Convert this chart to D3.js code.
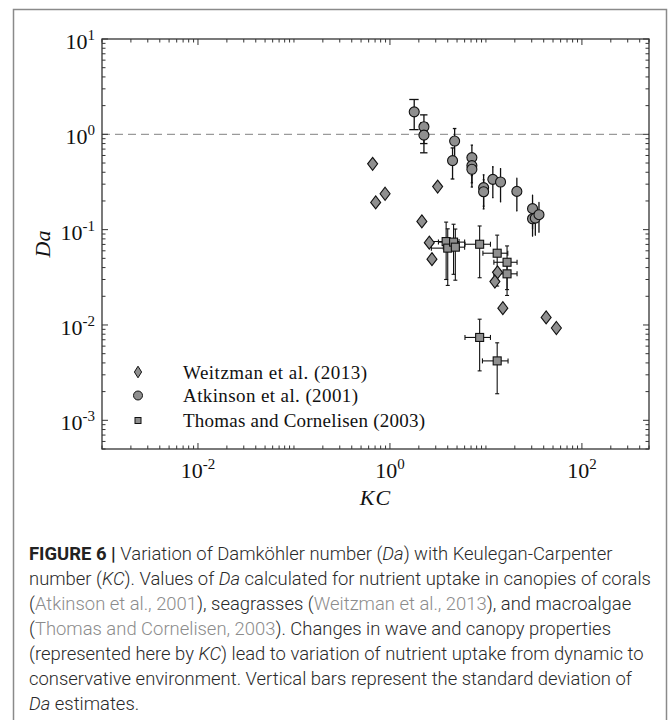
<!DOCTYPE html>
<html><head><meta charset="utf-8">
<script src="https://cdn.jsdelivr.net/npm/d3@7"></script>
<style>body{margin:0;background:#fff} svg{display:block}</style>
</head><body><svg id="c" width="669" height="720"></svg>
<script>
// ---- data ----
const weitzmanKC = [0.66, 0.71, 0.89, 2.15, 3.14, 2.57, 2.74, 13.2, 12.4, 15.0, 42.4, 54.2];
const weitzmanDa = [0.49, 0.193, 0.238, 0.122, 0.283, 0.073, 0.049, 0.0357, 0.0285, 0.015, 0.012, 0.0093];

const atkinsonKC = [1.79, 2.26, 2.26, 4.72, 4.49, 7.14, 7.14, 7.14, 9.46, 9.46, 11.8, 14.2, 21.0, 30.6, 30.6, 32.7, 35.7];
const atkinsonDa = [1.72, 1.20, 0.98, 0.85, 0.53, 0.57, 0.47, 0.43, 0.276, 0.25, 0.337, 0.316, 0.252, 0.166, 0.130, 0.132, 0.1435];
const atkinsonSD = [0.60, 0.40, 0.34, 0.30, 0.19, 0.20, 0.16, 0.15, 0.10, 0.085, 0.12, 0.12, 0.095, 0.065, 0.045, 0.045, 0.05];

const thomasKC   = [3.85, 4.0, 4.6, 4.8, 8.6, 13.1, 16.6, 16.6, 8.6, 13.1];
const thomasDa   = [0.075, 0.064, 0.074, 0.0655, 0.0703, 0.0566, 0.0455, 0.0344, 0.0074, 0.0042];
const thomasKCsd = [1.4, 1.3, 1.4, 1.2, 2.55, 3.8, 4.5, 4.5, 2.55, 3.9];
const thomasDaSD = [0.045, 0.038, 0.04, 0.036, 0.039, 0.031, 0.022, 0.014, 0.0041, 0.0023];

const xMajorExps = [-2, 0, 2];
const yMajorExps = [1, 0, -1, -2, -3];
const xDomain = [1e-3, 500];
const yDomain = [5e-4, 10];
const refLine = 1;
const legendLabels = ["Weitzman et al. (2013)", "Atkinson et al. (2001)", "Thomas and Cornelisen (2003)"];
const xLabel = "KC", yLabel = "Da";
const captionLines = [
  [["FIGURE 6 | ","b"],["Variation of Damköhler number (",""],["Da","i"],[") with Keulegan-Carpenter",""]],
  [["number (",""],["KC","i"],["). Values of ",""],["Da","i"],[" calculated for nutrient uptake in canopies of corals",""]],
  [["(",""],["Atkinson et al., 2001","g"],["), seagrasses (",""],["Weitzman et al., 2013","g"],["), and macroalgae",""]],
  [["(",""],["Thomas and Cornelisen, 2003","g"],["). Changes in wave and canopy properties",""]],
  [["(represented here by ",""],["KC","i"],[") lead to variation of nutrient uptake from dynamic to",""]],
  [["conservative environment. Vertical bars represent the standard deviation of",""]],
  [["Da","i"],[" estimates.",""]]
];

// ---- layout ----
const svg = d3.select("#c");
const L = 102, R = 649, T = 39, B = 449;
const x = d3.scaleLog().domain(xDomain).range([L, R]);
const y = d3.scaleLog().domain(yDomain).range([B, T]);
const serif = "'Liberation Serif','DejaVu Serif',serif";
const fill = "#8f8f8f";
const axisCol = "#333";

// outer frame
svg.append("path").attr("d", "M13.5,720 V9.5 H666.5 V720")
  .attr("fill","none").attr("stroke","#8a8a8a").attr("stroke-width",1.5);

// reference line
svg.append("line").attr("x1",L).attr("x2",R).attr("y1",y(refLine)).attr("y2",y(refLine))
  .attr("stroke","#9a9a9a").attr("stroke-width",1.2).attr("stroke-dasharray","8,5");

// ticks
function logTicks(lo, hi){ const out=[]; for(let e=Math.floor(Math.log10(lo)); e<=Math.ceil(Math.log10(hi)); e++){ for(let m=1;m<10;m++){const v=m*Math.pow(10,e); if(v>=lo*0.999 && v<=hi*1.001) out.push(v);} } return out; }
const gT = svg.append("g").attr("stroke",axisCol).attr("stroke-width",1);
const xMajorVals = xMajorExps.map(e=>Math.pow(10,e));
logTicks(xDomain[0], xDomain[1]).forEach(v=>{
  const major = xMajorVals.some(m=>Math.abs(m-v)/m<1e-6);
  const len = major?6:3.5, px=x(v);
  gT.append("line").attr("x1",px).attr("x2",px).attr("y1",B).attr("y2",B-len);
  gT.append("line").attr("x1",px).attr("x2",px).attr("y1",T).attr("y2",T+len);
});
logTicks(yDomain[0], yDomain[1]).forEach(v=>{
  const major = Math.abs(Math.log10(v)-Math.round(Math.log10(v)))<1e-6;
  const len = major?6:3.5, py=y(v);
  gT.append("line").attr("y1",py).attr("y2",py).attr("x1",L).attr("x2",L+len);
  gT.append("line").attr("y1",py).attr("y2",py).attr("x1",R).attr("x2",R-len);
});
svg.append("rect").attr("x",L).attr("y",T).attr("width",R-L).attr("height",B-T)
  .attr("fill","none").attr("stroke",axisCol).attr("stroke-width",1.3);

// tick labels
xMajorExps.forEach(e=>{
  const t = svg.append("text").attr("x",x(Math.pow(10,e))).attr("y",478).attr("text-anchor","middle")
    .attr("font-family",serif).attr("font-size",22).attr("fill","#111");
  t.append("tspan").text("10");
  t.append("tspan").attr("dy",-9).attr("font-size",15).text(String(e));
});
yMajorExps.forEach(e=>{
  const t = svg.append("text").attr("x",95).attr("y",y(Math.pow(10,e))+10).attr("text-anchor","end")
    .attr("font-family",serif).attr("font-size",22).attr("fill","#111");
  t.append("tspan").text("10");
  t.append("tspan").attr("dy",-9).attr("font-size",15).text(String(e));
});
svg.append("text").attr("x",(L+R)/2).attr("y",505).attr("text-anchor","middle")
  .attr("font-family",serif).attr("font-style","italic").attr("font-size",22).attr("letter-spacing",1).attr("fill","#111").text(xLabel);
svg.append("text").attr("transform",`translate(50,${(T+B)/2}) rotate(-90)`).attr("text-anchor","middle")
  .attr("font-family",serif).attr("font-style","italic").attr("font-size",22).attr("fill","#111").text(yLabel);

// markers
const diamond = (w,h)=>`M0,${-h}L${w},0L0,${h}L${-w},0Z`;
const eb = svg.append("g").attr("stroke","#111").attr("stroke-width",1.3).attr("fill","none");
const tee = 0.2;
atkinsonKC.forEach((k,i)=>{
  const d=atkinsonDa[i], s=atkinsonSD[i], px=x(k);
  eb.append("line").attr("x1",px).attr("x2",px).attr("y1",y(d+s)).attr("y2",y(d-s));
  [d+s,d-s].forEach(v=>eb.append("line").attr("x1",x(k-tee)).attr("x2",x(k+tee)).attr("y1",y(v)).attr("y2",y(v)));
});
svg.append("g").selectAll("circle").data(atkinsonKC).join("circle")
  .attr("cx",d=>x(d)).attr("cy",(d,i)=>y(atkinsonDa[i])).attr("r",5)
  .attr("fill",fill).attr("stroke","#111").attr("stroke-width",1.1);

const eb2 = svg.append("g").attr("stroke","#111").attr("stroke-width",1.1).attr("fill","none");
thomasKC.forEach((k,i)=>{
  const d=thomasDa[i], sy=thomasDaSD[i], sx=thomasKCsd[i], px=x(k), py=y(d);
  eb2.append("line").attr("x1",px).attr("x2",px).attr("y1",y(d+sy)).attr("y2",y(d-sy));
  [d+sy,d-sy].forEach(v=>eb2.append("line").attr("x1",px-2).attr("x2",px+2).attr("y1",y(v)).attr("y2",y(v)));
  eb2.append("line").attr("x1",x(k-sx)).attr("x2",x(k+sx)).attr("y1",py).attr("y2",py);
  [k-sx,k+sx].forEach(v=>eb2.append("line").attr("x1",x(v)).attr("x2",x(v)).attr("y1",py-2.5).attr("y2",py+2.5));
});
svg.append("g").selectAll("rect").data(thomasKC).join("rect")
  .attr("x",d=>x(d)-4).attr("y",(d,i)=>y(thomasDa[i])-4).attr("width",8).attr("height",8)
  .attr("fill",fill).attr("stroke","#111").attr("stroke-width",1.1);

svg.append("g").selectAll("path").data(weitzmanKC).join("path")
  .attr("d",diamond(5,6.5)).attr("transform",(d,i)=>`translate(${x(d)},${y(weitzmanDa[i])})`)
  .attr("fill",fill).attr("stroke","#111").attr("stroke-width",1.1);

// legend
const lg = svg.append("g");
const lx = 138, ly = [372, 395.5, 420.5];
const legendWidths = [184, 175, 242];
lg.append("path").attr("d",diamond(3.6,5.8)).attr("transform",`translate(${lx},${ly[0]})`).attr("fill",fill).attr("stroke","#111").attr("stroke-width",1);
lg.append("circle").attr("cx",lx).attr("cy",ly[1]).attr("r",4.5).attr("fill",fill).attr("stroke","#111").attr("stroke-width",1);
lg.append("rect").attr("x",lx-3).attr("y",ly[2]-3).attr("width",6).attr("height",6).attr("fill",fill).attr("stroke","#111").attr("stroke-width",1);
legendLabels.forEach((t,i)=>{
  lg.append("text").attr("x",183).attr("y",ly[i]+6.5).attr("font-family",serif).attr("font-size",19)
    .attr("textLength",legendWidths[i]).attr("lengthAdjust","spacing").attr("fill","#111").text(t);
});

// caption
const capFont = "Roboto,'Liberation Sans',Arial,sans-serif";
const cap = svg.append("g").attr("font-family",capFont).attr("font-weight",300).attr("fill","#2a2a2a");
const lines = captionLines.map((segs,i)=>{
  const t = cap.append("text").attr("x",29).attr("y",560+25*i).attr("font-size",18);
  segs.forEach(([s,st])=>{
    const ts = t.append("tspan").text(s);
    if(st==="b") ts.attr("font-weight",700).attr("fill","#222");
    if(st==="i") ts.attr("font-style","italic");
    if(st==="g") ts.attr("fill","#8c8c8c");
  });
  return t;
});
const w0 = lines[0].node().getComputedTextLength();
const fs = 18*584/w0;
lines.forEach(t=>t.attr("font-size",fs));
</script></body></html>
